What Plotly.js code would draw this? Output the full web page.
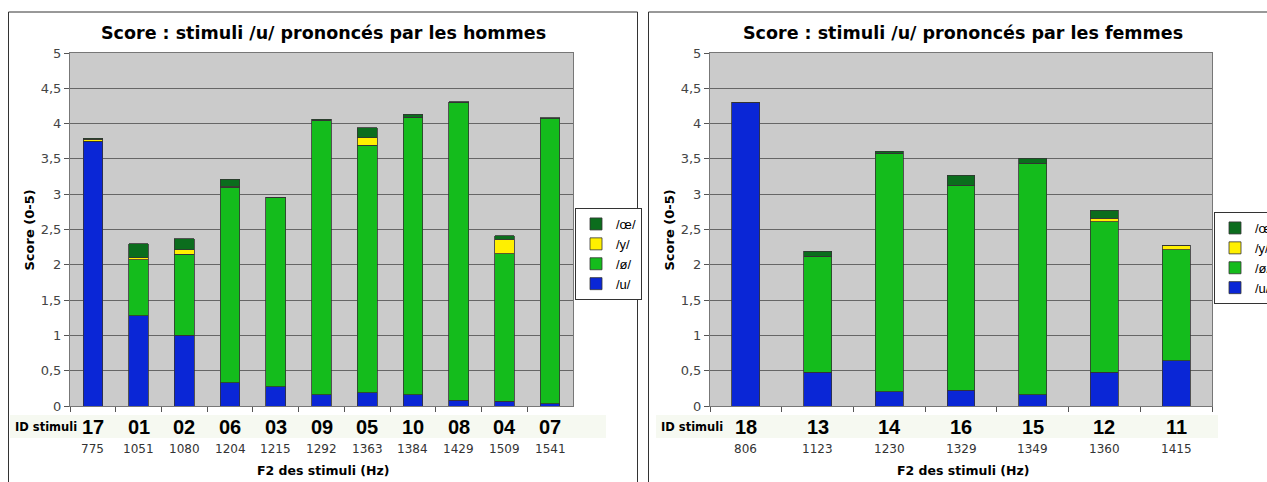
<!DOCTYPE html>
<html>
<head>
<meta charset="utf-8">
<script src="https://cdn.plot.ly/plotly-3.0.1.min.js"></script>
<style>html,body{margin:0;padding:0;background:#fff;}#chart{width:1267px;height:482px;}</style>
</head>
<body>
<div id="chart"></div>
<script>
// ---- Data: men ----
const menIds   = ['17','01','02','06','03','09','05','10','08','04','07'];
const menF2    = ['775','1051','1080','1204','1215','1292','1363','1384','1429','1509','1541'];
const menU     = [3.75, 1.28, 1.00, 0.33, 0.27, 0.16, 0.19, 0.16, 0.08, 0.07, 0.03];
const menOe    = [0.00, 0.79, 1.15, 2.77, 2.68, 3.89, 3.50, 3.93, 4.22, 2.09, 4.04]; // /ø/
const menY     = [0.03, 0.03, 0.06, 0.01, 0.00, 0.00, 0.11, 0.00, 0.00, 0.20, 0.00];
const menOE    = [0.01, 0.20, 0.16, 0.10, 0.01, 0.01, 0.14, 0.04, 0.01, 0.05, 0.01]; // /œ/
// ---- Data: women ----
const womIds   = ['18','13','14','16','15','12','11'];
const womF2    = ['806','1123','1230','1329','1349','1360','1415'];
const womU     = [4.30, 0.48, 0.20, 0.22, 0.16, 0.48, 0.64];
const womOe    = [0.00, 1.64, 3.38, 2.91, 3.28, 2.13, 1.57];
const womY     = [0.00, 0.00, 0.00, 0.00, 0.00, 0.05, 0.07];
const womOE    = [0.00, 0.07, 0.03, 0.14, 0.07, 0.11, 0.00];

const seriesNames = ['/u/', '/ø/', '/y/', '/œ/'];
const titles = ['Score : stimuli /u/ prononcés par les hommes', 'Score : stimuli /u/ prononcés par les femmes'];
const yTitle = 'Score (0-5)';
const xTitle = 'F2 des stimuli (Hz)';
const idLabel = 'ID stimuli';

const colors = ['#0a26d6', '#14bc1c', '#fff000', '#0b6d1d'];
const W = 1267, H = 482;
const px = v => v / W, py = v => 1 - v / H;

function makeTraces(ids, arrs, xa, ya, leg, width) {
  return arrs.map((vals, i) => ({
    type: 'bar', x: ids, y: vals, name: seriesNames[i], xaxis: xa, yaxis: ya,
    legend: leg, width: width,
    marker: {color: colors[i], line: {color: '#333', width: 0.8}},
    hoverinfo: 'x+y+name'
  }));
}

const traces = [
  ...makeTraces(menIds, [menU, menOe, menY, menOE], 'x', 'y', 'legend', 0.43),
  ...makeTraces(womIds, [womU, womOe, womY, womOE], 'x2', 'y2', 'legend2', 0.39)
];

const axisFont = {family: 'DejaVu Sans', size: 13, color: '#444'};
const yaxisBase = {
  range: [0, 5], dtick: 0.5, tick0: 0, showgrid: true, gridcolor: '#666', gridwidth: 1,
  zeroline: false, showline: true, linecolor: '#777', linewidth: 1, mirror: true,
  ticks: 'outside', ticklen: 5, tickcolor: '#555', tickfont: axisFont, fixedrange: true
};
const xaxisBase = {
  type: 'category', showgrid: false, zeroline: false, showline: true, linecolor: '#777',
  mirror: true, ticks: 'outside', tickson: 'boundaries', ticklen: 5, tickcolor: '#555',
  showticklabels: false, fixedrange: true
};

const annotations = [];
const shapes = [];
function panel(ids, f2, xa, titleX, idLabelX, bandX0, bandX1, borderX0, borderX1, title) {
  ids.forEach((id, i) => {
    annotations.push({xref: xa, yref: 'paper', x: i, y: py(427), text: '<b>' + id + '</b>',
      showarrow: false, xanchor: 'center', font: {family: 'Liberation Sans', size: 20, color: '#000'}, yanchor: 'middle'});
    annotations.push({xref: xa, yref: 'paper', x: i, y: py(449), text: f2[i],
      showarrow: false, xanchor: 'center', font: {family: 'DejaVu Sans', size: 12, color: '#333'}, yanchor: 'middle'});
  });
  annotations.push({xref: 'paper', yref: 'paper', x: px(idLabelX), y: py(427), text: '<b>' + idLabel + '</b>',
    showarrow: false, xanchor: 'right', font: {family: 'DejaVu Sans', size: 11.5, color: '#000'}, yanchor: 'middle'});
  annotations.push({xref: 'paper', yref: 'paper', x: px(titleX), y: py(33), text: '<b>' + title + '</b>',
    showarrow: false, xanchor: 'center', font: {family: 'DejaVu Sans', size: 17.5, color: '#000'}, yanchor: 'middle'});
  annotations.push({xref: 'paper', yref: 'paper', x: px(titleX), y: py(470), text: '<b>' + xTitle + '</b>',
    showarrow: false, xanchor: 'center', font: {family: 'DejaVu Sans', size: 12.5, color: '#000'}, yanchor: 'middle'});
  annotations.push({xref: 'paper', yref: 'paper', x: px(borderX0 + 20), y: py(230), text: '<b>' + yTitle + '</b>',
    showarrow: false, xanchor: 'center', textangle: -90, font: {family: 'DejaVu Sans', size: 13, color: '#000'}});
  shapes.push({type: 'rect', xref: 'paper', yref: 'paper', x0: px(bandX0), x1: px(bandX1), y0: py(438), y1: py(415),
    fillcolor: '#f6f9f1', line: {width: 0}, layer: 'below'});
  shapes.push({type: 'rect', xref: 'paper', yref: 'paper', x0: px(borderX0), x1: px(borderX1), y0: py(500), y1: py(12),
    fillcolor: 'rgba(0,0,0,0)', line: {color: '#333', width: 1}, layer: 'above'});
}
panel(menIds, menF2, 'x', 323, 79, 10, 606, 8.5, 637.5, titles[0]);
panel(womIds, womF2, 'x2', 963, 725, 656, 1218, 648.5, 1290, titles[1]);

const legendBase = {
  bgcolor: '#fff', bordercolor: '#333', borderwidth: 1, traceorder: 'reversed',
  font: {family: 'Liberation Sans', size: 13, color: '#000'}, yanchor: 'top', xanchor: 'left',
  tracegroupgap: 0
};

const layout = {
  width: W, height: H, margin: {l: 0, r: 0, t: 0, b: 0, autoexpand: false},
  paper_bgcolor: '#fff', plot_bgcolor: '#cbcbcb',
  separators: ', ', barmode: 'stack', showlegend: true,
  xaxis: Object.assign({}, xaxisBase, {domain: [px(70), px(573)], anchor: 'y', range: [-0.5, menIds.length - 0.5]}),
  yaxis: Object.assign({}, yaxisBase, {domain: [py(406), py(53)], anchor: 'x'}),
  xaxis2: Object.assign({}, xaxisBase, {domain: [px(710), px(1212)], anchor: 'y2', range: [-0.5, womIds.length - 0.5]}),
  yaxis2: Object.assign({}, yaxisBase, {domain: [py(406), py(53)], anchor: 'x2'}),
  legend: Object.assign({}, legendBase, {x: px(575), y: py(208)}),
  legend2: Object.assign({}, legendBase, {x: px(1214), y: py(212)}),
  annotations: annotations, shapes: shapes
};

Plotly.newPlot('chart', traces, layout, {displayModeBar: false, staticPlot: true});
</script>
</body>
</html>
